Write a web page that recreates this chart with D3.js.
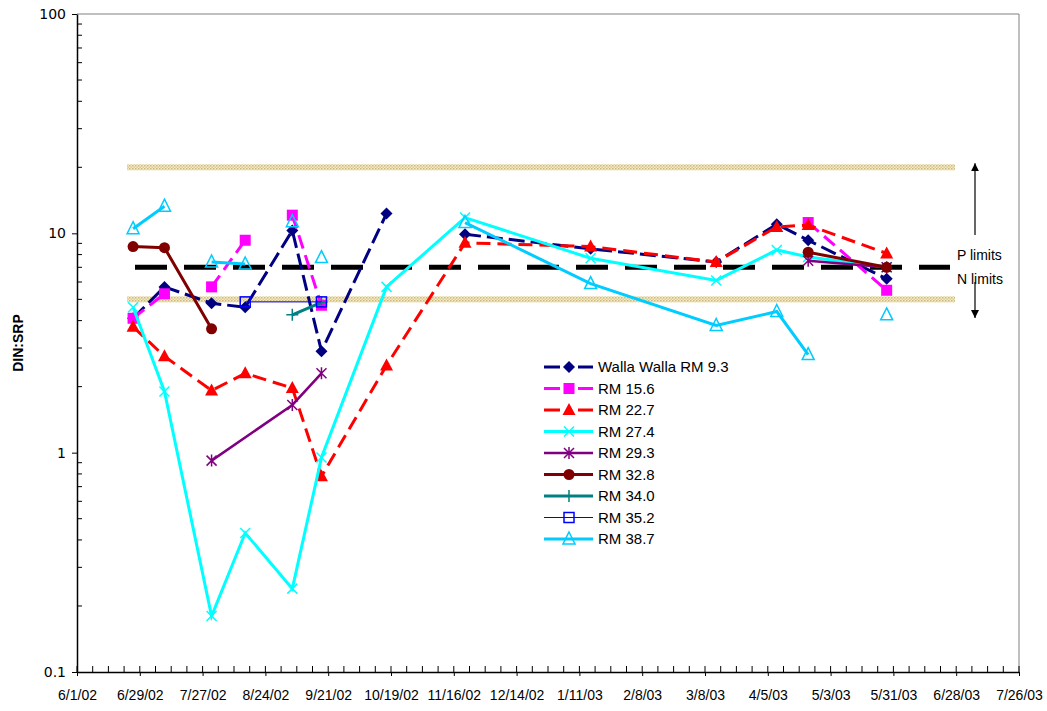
<!DOCTYPE html>
<html>
<head>
<meta charset="utf-8">
<script src="https://cdn.jsdelivr.net/npm/d3@7"></script>
<style>
  body { margin: 0; background: #fff; }
  svg { display: block; font-family: "Liberation Sans", Arial, sans-serif; }
</style>
</head>
<body>
<div id="chart"></div>
<script>
// sampling dates
var dates = ["2002-06-26", "2002-07-10", "2002-07-31", "2002-08-15", "2002-09-05", "2002-09-18",
  "2002-10-17", "2002-11-21", "2003-01-16", "2003-03-13", "2003-04-09", "2003-04-23", "2003-05-28"];

// DIN:SRP values per river mile (null = no sample)
var rm9_3  = [4.1, 5.7, 4.8, 4.6, 10.3, 2.9, 12.3, 9.9, 8.5, 7.4, 11.0, 9.3, 6.2];
var rm15_6 = [4.1, 5.3, 5.7, 9.3, 12.1, 4.7, null, null, null, null, null, 11.2, 5.5];
var rm22_7 = [3.75, 2.75, 1.92, 2.3, 1.97, 0.78, 2.5, 9.05, 8.7, 7.4, 10.7, 10.9, 8.1];
var rm27_4 = [4.6, 1.9, 0.18, 0.43, 0.24, 0.95, 5.7, 11.8, 7.7, 6.1, 8.4, 7.8, 7.0];
var rm29_3 = [null, null, 0.92, null, 1.65, 2.3, null, null, null, null, null, 7.5, 7.0];
var rm32_8 = [8.7, 8.6, 3.67, null, null, null, null, null, null, null, null, 8.2, 7.0];
var rm34_0 = [null, null, null, null, 4.25, 4.85, null, null, null, null, null, null, null];
var rm35_2 = [null, null, null, 4.87, null, 4.87, null, null, null, null, null, null, null];
var rm38_7 = [10.5, 13.3, 7.4, 7.25, 11.3, 7.75, null, 11.2, 5.9, 3.8, 4.4, 2.8, 4.25];

// line is broken before these date indices
var gaps9_3 = [7];
var gaps15_6 = [2, 4, 11];
var gaps29_3 = [11];
var gaps32_8 = [11];
var gaps38_7 = [2, 4, 5, 7, 12];

var seriesNames = ["Walla Walla RM 9.3", "RM 15.6", "RM 22.7", "RM 27.4", "RM 29.3",
  "RM 32.8", "RM 34.0", "RM 35.2", "RM 38.7"];

var yTicks = [0.1, 1, 10, 100];
var pLimit = 20, nLimit = 5, ratio = 7;

var width = 1047, height = 711;
var parse = d3.timeParse("%Y-%m-%d");

var series = [
  { name: seriesNames[0], values: rm9_3, gaps: gaps9_3, color: "#000080", dash: "16,6", w: 3, sym: "diamond" },
  { name: seriesNames[1], values: rm15_6, gaps: gaps15_6, color: "#ff00ff", dash: "14,7", w: 3, sym: "square" },
  { name: seriesNames[2], values: rm22_7, gaps: [], color: "#ff0000", dash: "14,7", w: 3, sym: "triangle" },
  { name: seriesNames[3], values: rm27_4, gaps: [], color: "#00ffff", dash: null, w: 3, sym: "x" },
  { name: seriesNames[4], values: rm29_3, gaps: gaps29_3, color: "#800080", dash: null, w: 2.5, sym: "star" },
  { name: seriesNames[5], values: rm32_8, gaps: gaps32_8, color: "#800000", dash: null, w: 3, sym: "circle" },
  { name: seriesNames[6], values: rm34_0, gaps: [], color: "#008080", dash: null, w: 3, sym: "plus" },
  { name: seriesNames[7], values: rm35_2, gaps: [], color: "#0000ff", dash: null, w: 1, sym: "osquare" },
  { name: seriesNames[8], values: rm38_7, gaps: gaps38_7, color: "#00ccff", dash: null, w: 3, sym: "otriangle" }
];

var x = d3.scaleTime()
  .domain([new Date(2002, 5, 1), new Date(2003, 6, 26)])
  .range([77, 1019]);
var y = d3.scaleLog().domain([0.1, 100]).range([672, 14]);

var svg = d3.select("#chart").append("svg")
  .attr("width", width)
  .attr("height", height);

var defs = svg.append("defs");
var pat = defs.append("pattern")
  .attr("id", "dots")
  .attr("patternUnits", "userSpaceOnUse")
  .attr("width", 3).attr("height", 3);
pat.append("rect").attr("width", 3).attr("height", 3).attr("fill", "#f4ebc6");
pat.append("rect").attr("width", 1.5).attr("height", 1.5).attr("fill", "#cdb77a");
pat.append("rect").attr("x", 1.5).attr("y", 1.5).attr("width", 1.5).attr("height", 1.5).attr("fill", "#dccb95");

defs.append("marker")
  .attr("id", "arrow")
  .attr("viewBox", "0 0 10 10")
  .attr("refX", 10).attr("refY", 5)
  .attr("markerWidth", 8).attr("markerHeight", 8)
  .attr("markerUnits", "userSpaceOnUse")
  .attr("orient", "auto")
  .append("path").attr("d", "M0,0L10,5L0,10Z").attr("fill", "#000");

// plot frame (top and right in gray)
svg.append("path")
  .attr("d", `M${x.range()[0]},${y(100)}H${x.range()[1]}V${y(0.1)}`)
  .attr("fill", "none").attr("stroke", "#808080").attr("stroke-width", 1);

// limit bands
svg.selectAll(".band")
  .data([pLimit, nLimit])
  .enter().append("rect")
  .attr("x", 127).attr("width", 828)
  .attr("y", d => y(d) - 3).attr("height", 6)
  .attr("fill", "url(#dots)");

svg.append("line")
  .attr("x1", 135).attr("x2", 950)
  .attr("y1", y(ratio)).attr("y2", y(ratio))
  .attr("stroke", "#000").attr("stroke-width", 5)
  .attr("stroke-dasharray", "32,17");

// arrows and labels on the right
svg.append("line")
  .attr("x1", 975).attr("x2", 975).attr("y1", 235).attr("y2", y(pLimit) - 4)
  .attr("stroke", "#000").attr("stroke-width", 1.2).attr("marker-end", "url(#arrow)");
svg.append("line")
  .attr("x1", 975).attr("x2", 975).attr("y1", 282).attr("y2", 318)
  .attr("stroke", "#000").attr("stroke-width", 1.2).attr("marker-end", "url(#arrow)");
svg.append("text").attr("x", 957).attr("y", 260).attr("font-size", 14).text("P limits");
svg.append("text").attr("x", 957).attr("y", 284).attr("font-size", 14).text("N limits");

// x axis
var majors = d3.timeDay.every(1).range(x.domain()[0], d3.timeDay.offset(x.domain()[1], 1))
  .filter((d, i) => i % 28 === 0);
var minors = d3.timeDay.every(1).range(x.domain()[0], d3.timeDay.offset(x.domain()[1], 1))
  .filter((d, i) => i % 7 === 0);

var xAxis = svg.append("g")
  .attr("transform", `translate(0,${y(0.1)})`)
  .call(d3.axisBottom(x).tickValues(majors).tickFormat(d3.timeFormat("%-m/%-d/%y"))
    .tickSizeInner(4).tickSizeOuter(0).tickPadding(14));
xAxis.select(".domain").attr("stroke", "#000").attr("stroke-width", 1.5);
xAxis.selectAll("text")
  .attr("font-family", "'Liberation Sans Narrow', 'Arial Narrow', sans-serif")
  .attr("font-size", 14).attr("fill", "#000");
xAxis.selectAll(".minor")
  .data(minors)
  .enter().append("line")
  .attr("x1", d => x(d)).attr("x2", d => x(d))
  .attr("y1", 0).attr("y2", -6)
  .attr("stroke", "#000");

// y axis
var yMinor = [];
[0.1, 1, 10].forEach(b => d3.range(2, 10).forEach(k => yMinor.push(b * k)));
var yAxis = svg.append("g")
  .attr("transform", `translate(${x.range()[0]},0)`)
  .call(d3.axisLeft(y).tickValues(yTicks).tickFormat(d3.format("~g"))
    .tickSizeInner(5).tickSizeOuter(0).tickPadding(6));
yAxis.select(".domain").attr("stroke", "#000").attr("stroke-width", 1.5);
yAxis.selectAll("text")
  .attr("font-family", "'DejaVu Sans', sans-serif")
  .attr("font-size", 14).attr("fill", "#000");
yAxis.selectAll(".minor")
  .data(yMinor)
  .enter().append("line")
  .attr("x1", 0).attr("x2", 5)
  .attr("y1", d => y(d)).attr("y2", d => y(d))
  .attr("stroke", "#000");

svg.append("text")
  .attr("transform", `translate(23,${(y(100) + y(0.1)) / 2}) rotate(-90)`)
  .attr("text-anchor", "middle")
  .attr("font-family", "'Liberation Sans Narrow', 'Arial Narrow', sans-serif")
  .attr("font-weight", "bold").attr("font-size", 14)
  .text("DIN:SRP");

// marker drawing
function drawSymbol(g, sym, color) {
  if (sym === "diamond") {
    g.append("path").attr("d", "M0,-6L6,0L0,6L-6,0Z").attr("fill", color);
  } else if (sym === "square") {
    g.append("rect").attr("x", -5.5).attr("y", -5.5).attr("width", 11).attr("height", 11).attr("fill", color);
  } else if (sym === "triangle") {
    g.append("path").attr("d", "M0,-7L6.5,5L-6.5,5Z").attr("fill", color);
  } else if (sym === "x") {
    g.append("path").attr("d", "M-5,-5L5,5M-5,5L5,-5").attr("stroke", color).attr("stroke-width", 1.5);
  } else if (sym === "star") {
    g.append("path").attr("d", "M-5,-5L5,5M-5,5L5,-5M0,-6V6").attr("stroke", color).attr("stroke-width", 1.5);
  } else if (sym === "circle") {
    g.append("circle").attr("r", 5.5).attr("fill", color);
  } else if (sym === "plus") {
    g.append("path").attr("d", "M-6,0H6M0,-6V6").attr("stroke", color).attr("stroke-width", 1.5);
  } else if (sym === "osquare") {
    g.append("rect").attr("x", -5).attr("y", -5).attr("width", 10).attr("height", 10)
      .attr("fill", "none").attr("stroke", color).attr("stroke-width", 1.5);
  } else if (sym === "otriangle") {
    g.append("path").attr("d", "M0,-7L6,5L-6,5Z")
      .attr("fill", "none").attr("stroke", color).attr("stroke-width", 1.5);
  }
}

var line = d3.line()
  .defined(d => d.v != null)
  .x(d => x(d.date))
  .y(d => y(d.v));

series.forEach(s => {
  var pts = [];
  s.values.forEach((v, i) => {
    if (v == null) return;
    if (s.gaps.indexOf(i) >= 0) pts.push({ v: null });
    pts.push({ date: parse(dates[i]), v: v });
  });
  var g = svg.append("g");
  g.append("path")
    .datum(pts)
    .attr("d", line)
    .attr("fill", "none")
    .attr("stroke", s.color)
    .attr("stroke-width", s.w)
    .attr("stroke-dasharray", s.dash);
  pts.filter(d => d.v != null).forEach(d => {
    var m = g.append("g").attr("transform", `translate(${x(d.date)},${y(d.v)})`);
    drawSymbol(m, s.sym, s.color);
  });
});

// legend
var legend = svg.append("g").attr("transform", "translate(544,367)");
series.forEach((s, i) => {
  var row = legend.append("g").attr("transform", `translate(0,${i * 21.5})`);
  row.append("line")
    .attr("x1", 0).attr("x2", 49)
    .attr("stroke", s.color).attr("stroke-width", s.w)
    .attr("stroke-dasharray", s.dash ? "16,18,20" : null);
  drawSymbol(row.append("g").attr("transform", "translate(25,0)"), s.sym, s.color);
  row.append("text")
    .attr("x", 54).attr("y", 5)
    .attr("font-size", 15)
    .text(s.name);
});
</script>
</body>
</html>
